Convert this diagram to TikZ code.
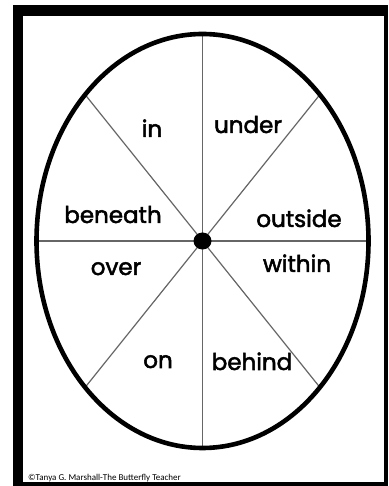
\documentclass[tikz,border=0pt]{standalone}
\usepackage{fontspec}
\usetikzlibrary{calc}
\setmainfont{Poppins}
\newfontfamily\wordfont{Poppins}[FakeBold=2.2]
\newfontfamily\copyfont{Carlito}
\tikzset{
  word/.style={anchor=base, inner sep=0pt, font=\wordfont\fontsize{23}{26}\selectfont},
  spoke/.style={draw=black!60, line width=1.2pt},
}
\begin{document}
\begin{tikzpicture}[x=1pt,y=1pt]
\useasboundingbox (0,0) rectangle (388,486);
\fill[white] (0,0) rectangle (388,486);
% frame
\fill[black] (13,0) rectangle (388,481);
\fill[white] (23,4) rectangle (384,470);
% centre and spokes
\coordinate (c) at (202.5,245);
\foreach \a in {0,45,...,315}{
  \coordinate (e\a) at ($(c)+({166*cos(\a)},{207*sin(\a)})$);
  \draw[spoke] (c) -- (e\a);
}
\draw[line width=4.6pt] (c) ellipse [x radius=166, y radius=207];
\fill (c) ellipse [x radius=9, y radius=8.5];
% words
\node[word] (in) at (152,349) {in};
\node[word] (under) at (248,353) {under};
\node[word] (beneath) at (113,263) {beneath};
\node[word] (outside) at (299,259) {outside};
\node[word] (over) at (116,211) {over};
\node[word] (within) at (297,214) {within};
\node[word] (on) at (158,118) {on};
\node[word] (behind) at (252,116) {behind};
\node[anchor=base west, inner sep=0pt, font=\copyfont\fontsize{9}{10}\selectfont] (copy) at (28,5.5) {©Tanya G. Marshall-The Butterfly Teacher};
\end{tikzpicture}
\end{document}
